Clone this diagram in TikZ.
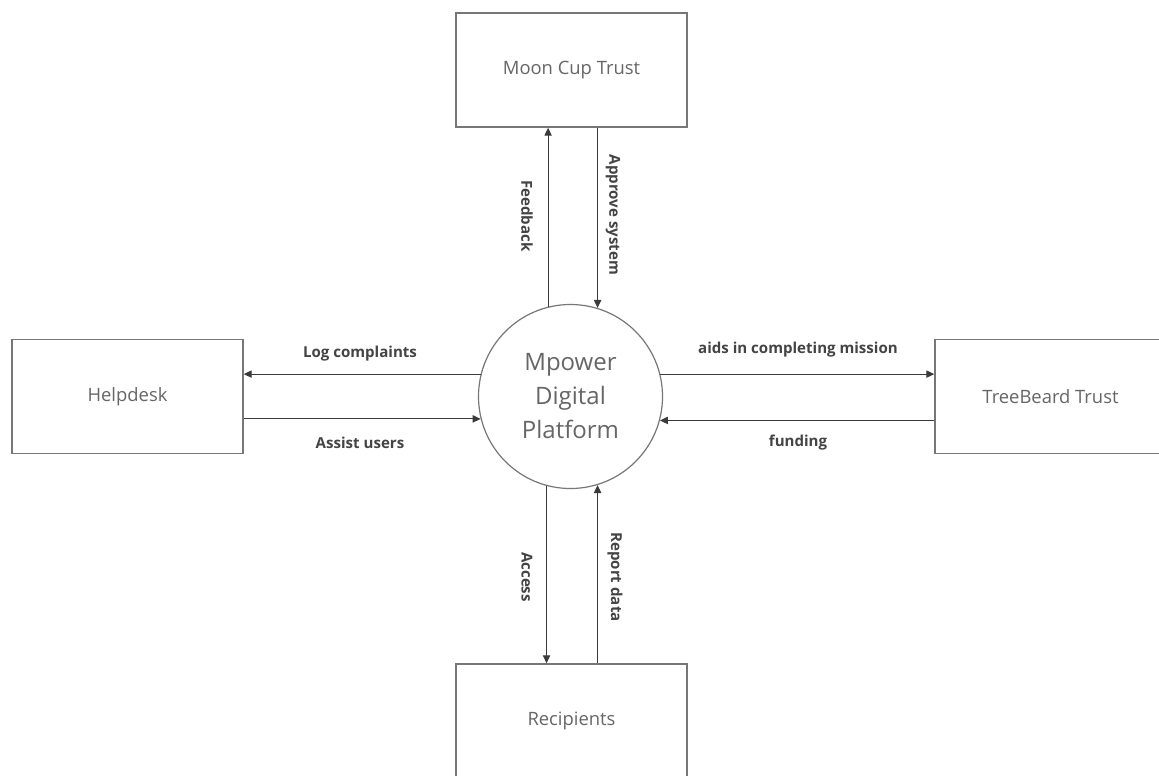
\documentclass[tikz,border=0pt]{standalone}
\usepackage{fontspec}
\setmainfont{Open Sans}
\usetikzlibrary{arrows.meta,calc}
\definecolor{boxline}{HTML}{777777}
\definecolor{boxtext}{HTML}{666666}
\definecolor{arrline}{HTML}{3A3A3A}
\definecolor{lbltext}{HTML}{444444}
\tikzset{
  entity/.style={draw=boxline, line width=1.1pt, fill=white, rectangle, inner sep=0pt,
    minimum width=173.25pt, minimum height=85.5pt, text=boxtext,
    font=\fontsize{13.8}{16}\selectfont},
  proc/.style={draw=boxline, line width=0.9pt, circle, inner sep=0pt, minimum size=138pt,
    text=boxtext, align=center, font=\fontsize{18}{25.5}\selectfont},
  flow/.style={draw=arrline, line width=0.8pt, -{Triangle[length=6pt,width=5.5pt]}},
  lbl/.style={text=lbltext, font=\bfseries\fontsize{11.3}{13}\selectfont, inner sep=0pt}
}
\begin{document}
\begin{tikzpicture}[x=0.75pt,y=-0.75pt]
\useasboundingbox (0,0) rectangle (1159,775);
\clip (0,0) rectangle (1159,775);
\fill[white] (0,0) rectangle (1159,775);
\node[entity] (mc) at (571.5,70) {Moon Cup Trust};
\node[entity] (hd) at (127.5,396.5) {Helpdesk};
\node[entity] (tb) at (1050.5,396.5) {TreeBeard Trust};
\node[entity] (rc) at (571.5,721) {Recipients};
\node[proc] (pf) at (570.5,396.5) {Mpower\\Digital\\Platform};

% vertical flows
\draw[flow] (pf.104.8) -- (pf.104.8 |- mc.south);
\draw[flow] (pf.73.3 |- mc.south) -- (pf.73.3);
\draw[flow] (pf.255.8) -- (pf.255.8 |- rc.north);
\draw[flow] (pf.287.4 |- rc.north) -- (pf.287.4);
% horizontal flows
\draw[flow] (pf.166.2) -- (pf.166.2 -| hd.east);
\draw[flow] (pf.194.8 -| hd.east) -- (pf.194.8);
\draw[flow] (pf.14.5) -- (pf.14.5 -| tb.west);
\draw[flow] (pf.345.2 -| tb.west) -- (pf.345.2);

% labels
\node[lbl] (l1) at (360,354) {Log complaints};
\node[lbl] (l2) at (360,443) {Assist users};
\node[lbl] (l3) at (798,350) {aids in completing mission};
\node[lbl] (l4) at (798,443) {funding};
\node[lbl, rotate=-90] (l5) at (527,216) {Feedback};
\node[lbl, rotate=-90] (l6) at (613,215) {Approve system};
\node[lbl, rotate=-90] (l7) at (527,577) {Access};
\node[lbl, rotate=-90] (l8) at (615,577) {Report data};
\end{tikzpicture}
\end{document}
